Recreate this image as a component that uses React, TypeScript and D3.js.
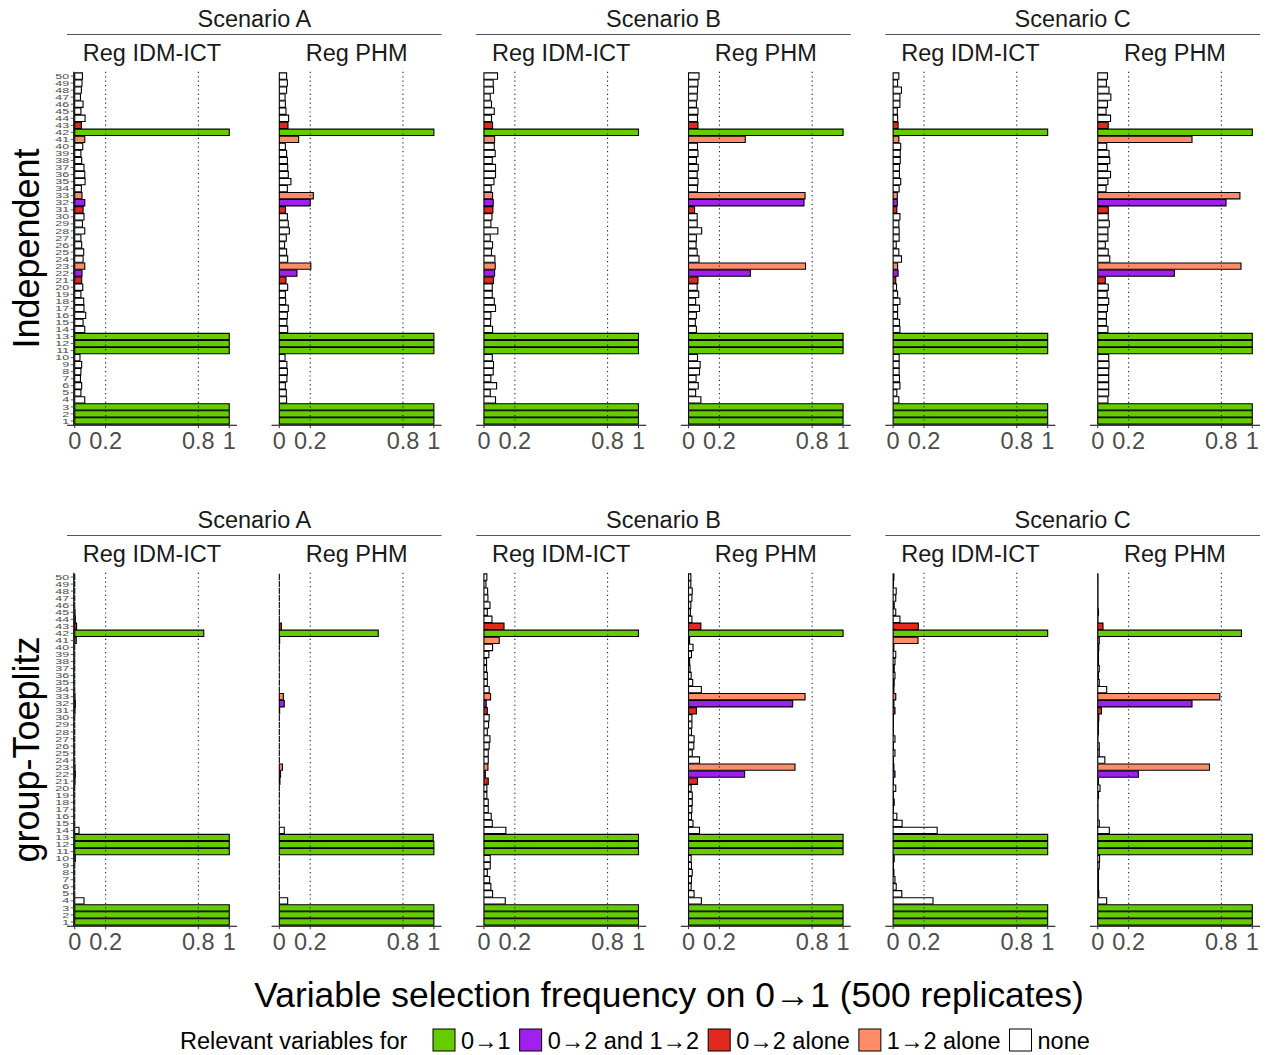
import React from "react";
import * as d3 from "d3";

const variables = d3.range(1, 51);
const scenarios = ["Scenario A", "Scenario B", "Scenario C"];
const methods = ["Reg IDM-ICT", "Reg PHM"];
const designs = ["Independent", "group-Toeplitz"];
const xTicks = [0, 0.2, 0.8, 1];
const xTickLabels = ["0", "0.2", "0.8", "1"];
const refLines = [0.2, 0.8];

// which transition each variable is relevant for
const vars01 = [1, 2, 3, 11, 12, 13, 42];
const varsBoth = [22, 32];
const vars02 = [21, 31, 43];
const vars12 = [23, 33, 41];
const groupLabels = ["0→1", "0→2 and 1→2", "0→2 alone", "1→2 alone", "none"];
const groupColors = ["#66CC00", "#A020F0", "#E0291F", "#FF8C69", "#FFFFFF"];

// selection frequencies, variable 1 -> 50
const indepA_IDM = [1, 1, 1, 0.065, 0.04, 0.045, 0.037, 0.04, 0.045, 0.034, 1, 1, 1, 0.065, 0.054, 0.071, 0.06, 0.058, 0.04, 0.052, 0.045, 0.047, 0.065, 0.054, 0.058, 0.045, 0.04, 0.065, 0.05, 0.06, 0.054, 0.065, 0.047, 0.043, 0.067, 0.065, 0.06, 0.045, 0.04, 0.052, 0.065, 1, 0.043, 0.067, 0.04, 0.054, 0.037, 0.043, 0.047, 0.05];
const indepA_PHM = [1, 1, 1, 0.047, 0.045, 0.039, 0.049, 0.052, 0.049, 0.037, 1, 1, 1, 0.054, 0.049, 0.052, 0.058, 0.041, 0.039, 0.054, 0.043, 0.114, 0.204, 0.054, 0.047, 0.034, 0.045, 0.065, 0.058, 0.052, 0.04, 0.2, 0.22, 0.052, 0.075, 0.058, 0.054, 0.052, 0.047, 0.039, 0.125, 1, 0.056, 0.06, 0.043, 0.039, 0.037, 0.047, 0.052, 0.047];
const indepB_IDM = [1, 1, 1, 0.075, 0.041, 0.082, 0.045, 0.06, 0.062, 0.054, 1, 1, 1, 0.056, 0.043, 0.045, 0.075, 0.067, 0.054, 0.054, 0.062, 0.069, 0.073, 0.071, 0.049, 0.056, 0.041, 0.09, 0.045, 0.052, 0.058, 0.06, 0.056, 0.047, 0.065, 0.075, 0.075, 0.054, 0.073, 0.067, 0.069, 1, 0.056, 0.049, 0.067, 0.049, 0.041, 0.062, 0.06, 0.088];
const indepB_PHM = [1, 1, 1, 0.08, 0.046, 0.063, 0.049, 0.071, 0.075, 0.058, 1, 1, 1, 0.051, 0.044, 0.051, 0.071, 0.046, 0.066, 0.056, 0.061, 0.4, 0.757, 0.068, 0.056, 0.049, 0.051, 0.085, 0.056, 0.056, 0.039, 0.747, 0.754, 0.058, 0.061, 0.056, 0.063, 0.051, 0.061, 0.058, 0.367, 1, 0.061, 0.058, 0.061, 0.051, 0.056, 0.058, 0.061, 0.068];
const indepC_IDM = [1, 1, 1, 0.037, 0.024, 0.044, 0.041, 0.039, 0.039, 0.039, 1, 1, 1, 0.044, 0.041, 0.029, 0.029, 0.044, 0.029, 0.022, 0.017, 0.032, 0.029, 0.054, 0.037, 0.02, 0.039, 0.039, 0.037, 0.044, 0.024, 0.027, 0.027, 0.039, 0.049, 0.041, 0.041, 0.046, 0.046, 0.049, 0.037, 1, 0.032, 0.029, 0.027, 0.044, 0.044, 0.054, 0.029, 0.037];
const indepC_PHM = [1, 1, 1, 0.066, 0.071, 0.071, 0.071, 0.071, 0.073, 0.071, 1, 1, 1, 0.066, 0.056, 0.056, 0.063, 0.071, 0.061, 0.068, 0.049, 0.496, 0.927, 0.078, 0.068, 0.049, 0.066, 0.066, 0.075, 0.068, 0.068, 0.83, 0.92, 0.054, 0.066, 0.083, 0.063, 0.078, 0.073, 0.058, 0.61, 1, 0.068, 0.083, 0.054, 0.063, 0.085, 0.073, 0.056, 0.063];
const toepA_IDM = [1, 1, 1, 0.06, 0, 0, 0, 0, 0, 0.004, 1, 1, 1, 0.028, 0, 0, 0, 0, 0, 0, 0.002, 0.004, 0.002, 0, 0, 0, 0, 0, 0, 0, 0.002, 0.004, 0.002, 0, 0, 0, 0, 0, 0, 0, 0.01, 0.835, 0.012, 0.004, 0.002, 0, 0, 0, 0, 0];
const toepA_PHM = [1, 1, 1, 0.054, 0, 0, 0, 0, 0, 0, 1, 1, 0.996, 0.032, 0, 0, 0, 0, 0, 0, 0.004, 0.008, 0.02, 0, 0, 0, 0, 0, 0, 0, 0.002, 0.032, 0.026, 0, 0, 0, 0, 0, 0, 0, 0.002, 0.64, 0.013, 0, 0, 0, 0, 0, 0, 0];
const toepB_IDM = [1, 1, 1, 0.138, 0.056, 0.045, 0.037, 0.022, 0.041, 0.041, 1, 1, 1, 0.142, 0.054, 0.047, 0.028, 0.028, 0.019, 0.019, 0.028, 0.009, 0.026, 0.028, 0.028, 0.034, 0.039, 0.022, 0.03, 0.034, 0.022, 0.015, 0.043, 0.034, 0.022, 0.022, 0.017, 0.017, 0.032, 0.056, 0.099, 1, 0.13, 0.052, 0.022, 0.039, 0.026, 0.024, 0.013, 0.019];
const toepB_PHM = [1, 1, 1, 0.083, 0.036, 0.017, 0.019, 0.024, 0.019, 0.017, 1, 1, 1, 0.071, 0.029, 0.019, 0.022, 0.024, 0.024, 0.017, 0.058, 0.363, 0.689, 0.071, 0.024, 0.034, 0.036, 0.019, 0.022, 0.022, 0.051, 0.674, 0.754, 0.083, 0.027, 0.017, 0.01, 0.007, 0.019, 0.029, 0.007, 1, 0.08, 0.022, 0.012, 0.015, 0.022, 0.024, 0.015, 0.015];
const toepC_IDM = [1, 1, 1, 0.258, 0.056, 0.02, 0.012, 0.005, 0.002, 0.007, 1, 1, 1, 0.285, 0.058, 0.024, 0.002, 0.007, 0.002, 0.017, 0.002, 0.012, 0.005, 0.002, 0.012, 0.002, 0.012, 0.002, 0.002, 0.002, 0.012, 0.005, 0.017, 0.005, 0.007, 0.012, 0.007, 0.012, 0.017, 0.005, 0.161, 1, 0.163, 0.044, 0.017, 0.007, 0.017, 0.02, 0.002, 0.005];
const toepC_PHM = [1, 1, 1, 0.058, 0.007, 0.005, 0.005, 0.005, 0.01, 0.012, 1, 1, 1, 0.075, 0.01, 0.002, 0.002, 0.002, 0.005, 0.015, 0.005, 0.263, 0.723, 0.046, 0.01, 0.01, 0.002, 0.005, 0.005, 0.007, 0.024, 0.61, 0.79, 0.058, 0.01, 0.005, 0.01, 0.005, 0.005, 0.007, 0.01, 0.93, 0.034, 0.002, 0.005, 0.002, 0.002, 0.002, 0.002, 0.002];

const rows = [
  [indepA_IDM, indepA_PHM, indepB_IDM, indepB_PHM, indepC_IDM, indepC_PHM],
  [toepA_IDM, toepA_PHM, toepB_IDM, toepB_PHM, toepC_IDM, toepC_PHM],
];

const FONT = "'Liberation Sans', Arial, Helvetica, sans-serif";
const W = 1272;
const H = 1055;
const panelW = 170;
const panelH = 353.4;
const colLeft = d3.scaleLinear().domain([0, 5]).range([67, 1090]);
const rowTop = d3.scaleLinear().domain([0, 1]).range([71.8, 572.8]);

function groupOf(v: number) {
  if (vars01.includes(v)) return 0;
  if (varsBoth.includes(v)) return 1;
  if (vars02.includes(v)) return 2;
  if (vars12.includes(v)) return 3;
  return 4;
}

let ctx: CanvasRenderingContext2D | null = null;
function textWidth(s: string, size: number) {
  if (!ctx) ctx = document.createElement("canvas").getContext("2d");
  ctx!.font = `${size}px ${FONT}`;
  return ctx!.measureText(s).width;
}

function Panel({ values, row, col }: { values: number[]; row: number; col: number }) {
  const left = colLeft(col);
  const top = rowTop(row);
  const x = d3.scaleLinear().domain([-0.05, 1.05]).range([left, left + panelW]);
  const y = d3
    .scaleBand<number>()
    .domain(variables.slice().reverse())
    .range([top, top + panelH])
    .paddingInner(0.1)
    .paddingOuter(0.15);
  const bh = y.bandwidth();
  const bottom = top + panelH;
  const axisX = x(0) - 1;

  return (
    <g>
      {variables.map((v, i) => {
        const x0 = x(0);
        const w = x(values[i]) - x0;
        const y0 = y(v)!;
        return (
          <path
            key={v}
            d={`M${x0},${y0}h${w}v${bh}h${-w}Z`}
            fill={groupColors[groupOf(v)]}
            stroke="#000"
            strokeWidth={1.1}
          />
        );
      })}
      {refLines.map((r) => (
        <line
          key={r}
          x1={x(r)}
          x2={x(r)}
          y1={top}
          y2={bottom}
          stroke="#222"
          strokeWidth={1.1}
          strokeDasharray="1.2 3.2"
        />
      ))}
      <line x1={left} x2={left + panelW} y1={bottom} y2={bottom} stroke="#000" strokeWidth={1.1} />
      {xTicks.map((t, i) => (
        <g key={t}>
          <line x1={x(t)} x2={x(t)} y1={bottom} y2={bottom + 3} stroke="#333" strokeWidth={1} />
          <text
            x={x(t)}
            y={bottom + 23.5}
            textAnchor="middle"
            fontSize={23.5}
            fill="#4D4D4D"
            fontFamily={FONT}
          >
            {xTickLabels[i]}
          </text>
        </g>
      ))}
      {col === 0 && (
        <g>
          <line x1={axisX} x2={axisX} y1={top} y2={bottom} stroke="#000" strokeWidth={1.1} />
          {variables.map((v) => {
            const yc = y(v)! + bh / 2;
            return (
              <g key={v}>
                <line x1={axisX - 3} x2={axisX} y1={yc} y2={yc} stroke="#333" strokeWidth={0.8} />
                <text
                  transform={`translate(${axisX - 4.5},${yc}) scale(1,0.62)`}
                  textAnchor="end"
                  dominantBaseline="central"
                  fontSize={12.5}
                  fill="#4D4D4D"
                  fontFamily={FONT}
                >
                  {v}
                </text>
              </g>
            );
          })}
        </g>
      )}
    </g>
  );
}

function Strips({ row }: { row: number }) {
  const off = rowTop(row) - rowTop(0);
  return (
    <g>
      {scenarios.map((s, k) => {
        const l = colLeft(2 * k);
        const r = colLeft(2 * k + 1) + panelW;
        return (
          <g key={s}>
            <text
              x={(l + r) / 2}
              y={26.5 + off}
              textAnchor="middle"
              fontSize={23.5}
              fill="#1A1A1A"
              fontFamily={FONT}
            >
              {s}
            </text>
            <line x1={l} x2={r} y1={34.5 + off} y2={34.5 + off} stroke="#555" strokeWidth={1.1} />
          </g>
        );
      })}
      {d3.range(6).map((c) => (
        <text
          key={c}
          x={colLeft(c) + panelW / 2}
          y={60.5 + off}
          textAnchor="middle"
          fontSize={23.5}
          fill="#1A1A1A"
          fontFamily={FONT}
        >
          {methods[c % 2]}
        </text>
      ))}
      <text
        transform={`translate(39,${rowTop(row) + panelH / 2}) rotate(-90)`}
        textAnchor="middle"
        fontSize={36}
        fill="#000"
        fontFamily={FONT}
      >
        {designs[row]}
      </text>
    </g>
  );
}

function Legend() {
  const size = 23.5;
  const title = "Relevant variables for";
  let cx = 433;
  const items = groupLabels.map((g, i) => {
    const bx = cx;
    const tx = bx + 28;
    cx = tx + textWidth(g, size) + 9;
    return { g, i, bx, tx };
  });
  return (
    <g fontFamily={FONT} fontSize={size} fill="#000">
      <text x={180} y={1048.5}>
        {title}
      </text>
      {items.map((it) => (
        <g key={it.g}>
          <rect x={it.bx} y={1029} width={22} height={22} fill={groupColors[it.i]} stroke="#000" strokeWidth={1} />
          <text x={it.tx} y={1048.5}>
            {it.g}
          </text>
        </g>
      ))}
    </g>
  );
}

export default function App() {
  return (
    <svg width={W} height={H} style={{ display: "block", position: "absolute", left: 0, top: 0, background: "#fff" }}>
      <rect width={W} height={H} fill="#fff" />
      {rows.map((series, r) => (
        <g key={r}>
          <Strips row={r} />
          {series.map((vals, c) => (
            <Panel key={c} values={vals} row={r} col={c} />
          ))}
        </g>
      ))}
      <text x={669} y={1007} textAnchor="middle" fontSize={35.4} fill="#000" fontFamily={FONT}>
        Variable selection frequency on 0→1 (500 replicates)
      </text>
      <Legend />
    </svg>
  );
}
